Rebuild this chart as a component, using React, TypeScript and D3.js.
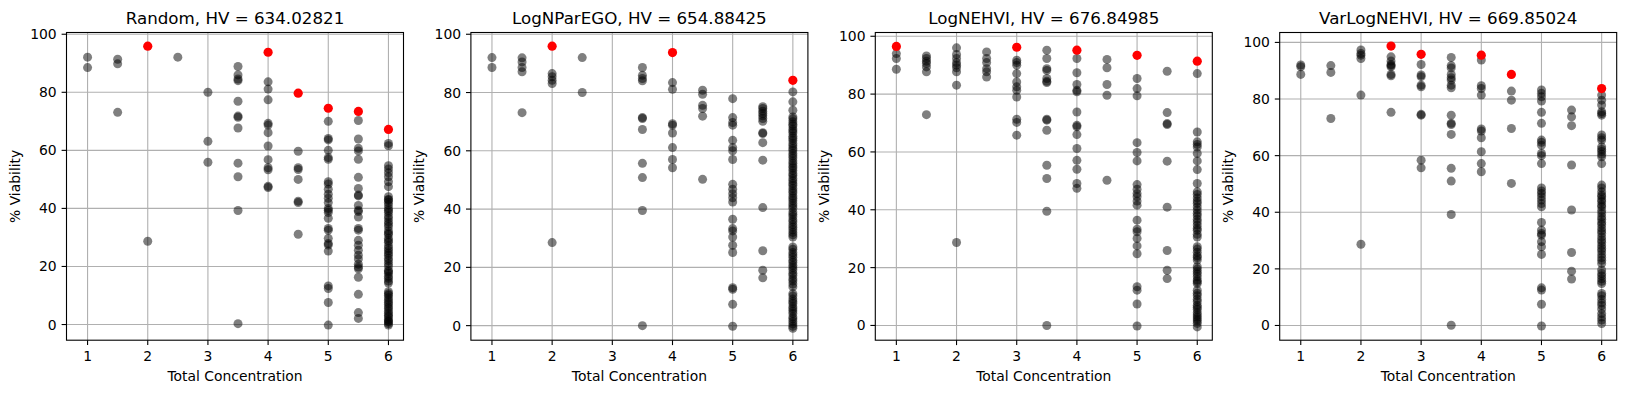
import React from "react";
import * as d3 from "d3";

// ---- data ----
const titles = ["Random, HV = 634.02821", "LogNParEGO, HV = 654.88425", "LogNEHVI, HV = 676.84985", "VarLogNEHVI, HV = 669.85024"];
const xTicks = [1, 2, 3, 4, 5, 6];
const yTicks = [0, 20, 40, 60, 80, 100];
const xDomain = [0.65, 6.25];
const yDomains = [[-5.4, 100.6], [-5.0, 100.6], [-5.1, 101.3], [-5.2, 103.5]];

const randomGrey: [number, number[]][] = [
  [1, [92.1, 88.5]],
  [1.5, [91.4, 89.8, 73.1]],
  [2, [28.7]],
  [2.5, [92.1]],
  [3, [80, 63.1, 55.9]],
  [3.5, [88.9, 86.0, 84.6, 84.0, 76.9, 71.8, 71.4, 67.7, 55.6, 50.9, 39.3, 0.3]],
  [4, [83.6, 81.1, 77.4, 69.3, 68.7, 66.1, 61.5, 56.8, 54.0, 53.3, 47.6, 47.2]],
  [4.5, [59.7, 54.0, 53.4, 50.0, 42.5, 42.0, 31.1]],
  [5, [70, 64.1, 63.6, 60.0, 57.5, 56.9, 49.2, 48.4, 46.6, 44.9, 43.5, 42.0, 40.0, 39.4, 38.6, 36.6, 33.1, 32.5, 29.7, 27.9, 27.4, 25.3, 13.3, 12.4, 7.6, -0.2]],
  [5.5, [70.3, 63.9, 60.7, 59.8, 56.9, 50.7, 46.9, 44.6, 44.3, 41.0, 39.4, 38.9, 37.0, 33.1, 32.5, 29.0, 27.3, 25.6, 23.9, 22.6, 20.8, 19.8, 19.2, 16.3, 10.4, 4.1, 2.1]],
  [6, [62.4, 61.6, 54.7, 53.6, 52.3, 50.9, 49.2, 47.5, 44.0, 43.1, 42.9, 42.1, 41.2, 40.0, 39.3, 38.6, 37.4, 36.5, 35.4, 34.6, 33.7, 32.3, 31.5, 31.0, 29.7, 28.9, 28.3, 27.1, 26.2, 25.4, 24.6, 23.9, 22.8, 22.0, 21.0, 20.1, 18.7, 18.2, 17.6, 16.6, 15.9, 15.0, 14.3, 11.3, 10.6, 10.1, 9.2, 8.4, 7.6, 7.0, 6.1, 5.5, 4.6, 3.8, 3.1, 2.6, 1.7, 1.2, 0.9, 0.3, -0.2]],
];
const randomFront: [number, number][] = [[2, 95.9], [4, 93.8], [4.5, 79.7], [5, 74.5], [5.5, 73.4], [6, 67.2]];

const parEgoGrey: [number, number[]][] = [
  [1, [92.0, 88.6]],
  [1.5, [91.9, 90.5, 88.6, 87.1, 73.1]],
  [2, [86.5, 85.4, 84.2, 83.1, 28.5]],
  [2.5, [92.0, 80.0]],
  [3.5, [88.6, 85.9, 84.8, 84.0, 71.4, 71.1, 67.3, 55.7, 50.8, 39.5, 0]],
  [4, [83.4, 81.1, 69.3, 68.8, 66.1, 61.1, 57.0, 54.2]],
  [4.5, [80.8, 79.4, 75.6, 74.5, 71.9, 50.2]],
  [5, [77.9, 71.4, 69.7, 68.8, 63.6, 61.1, 60.0, 57.0, 48.5, 46.8, 45.3, 43.9, 42.4, 36.5, 33.3, 32.5, 30.4, 27.6, 25.1, 13.0, 12.5, 7.3, -0.2]],
  [5.5, [75.1, 74.5, 73.6, 72.8, 72.0, 71.1, 70.1, 66.2, 65.9, 62.8, 56.8, 40.5, 25.7, 19.0, 16.4]],
  [6, [80.2, 76.8, 73.9, 71.6, 70.9, 70.0, 69.1, 68.5, 67.5, 66.8, 66.1, 65.0, 64.3, 63.5, 62.5, 61.7, 60.8, 60.1, 59.1, 58.3, 57.5, 56.5, 55.7, 54.8, 54.1, 53.2, 52.2, 51.5, 50.5, 49.7, 48.8, 48.1, 47.1, 46.2, 45.5, 44.5, 43.7, 42.9, 41.9, 41.1, 40.3, 39.0, 38.2, 37.4, 36.3, 35.6, 34.6, 33.8, 32.9, 32.0, 31.2, 30.4, 27.0, 26.2, 25.1, 24.3, 23.5, 22.4, 21.7, 20.7, 19.9, 19.1, 18.0, 17.2, 16.1, 15.3, 14.3, 13.3, 11.0, 10.2, 9.1, 8.3, 7.6, 6.5, 5.8, 5.0, 4.2, 3.0, 2.3, 1.4, 0.6, -0.2, -0.9]],
];
const parEgoFront: [number, number][] = [[2, 95.9], [4, 93.7], [6, 84.2]];

const nehviGrey: [number, number[]][] = [
  [1, [94.0, 92.3, 88.6]],
  [1.5, [93.2, 92.3, 91.4, 90.6, 89.4, 87.7, 72.9]],
  [2, [96.0, 93.7, 92.3, 90.9, 90.0, 89.1, 87.7, 83.1, 28.7]],
  [2.5, [94.6, 92.3, 90.9, 88.8, 87.7, 85.9]],
  [3, [91.7, 90.9, 90.0, 87.1, 84.2, 82.5, 81.3, 79.0, 71.3, 70.2, 65.8]],
  [3.5, [95.2, 92.3, 88.8, 88.2, 85.4, 84.4, 84.0, 71.3, 71.0, 67.5, 55.4, 50.8, 39.5, 0]],
  [4, [92.3, 87.4, 83.3, 81.3, 80.8, 73.8, 69.2, 68.7, 66.0, 61.2, 57.1, 54.0, 49.1, 47.4]],
  [4.5, [92.0, 89.1, 83.3, 79.6, 50.2]],
  [5, [85.4, 81.9, 79.4, 63.2, 59.8, 56.9, 48.7, 47.1, 45.6, 44.5, 43.0, 41.6, 36.4, 33.3, 32.4, 30.1, 27.5, 24.8, 13.4, 12.2, 7.4, -0.2]],
  [5.5, [87.9, 73.6, 69.8, 69.5, 56.8, 40.9, 25.9, 19.1, 16.2]],
  [6, [87.1, 66.9, 63.5, 62.6, 61.7, 59.5, 56.9, 53.9, 49.1, 46.2, 45.3, 44.1, 43.0, 42.2, 41.0, 39.9, 38.8, 37.9, 36.7, 35.8, 34.7, 33.6, 32.9, 31.5, 30.6, 27.2, 26.4, 25.3, 24.1, 23.5, 22.6, 20.3, 19.5, 18.6, 17.8, 16.8, 15.7, 15.1, 14.5, 12.2, 11.1, 10.3, 9.1, 8.2, 7.0, 6.3, 5.5, 4.4, 3.6, 2.9, 2.2, 1.5, 0.7, -0.5]],
];
const nehviFront: [number, number][] = [[1, 96.5], [3, 96.2], [4, 95.2], [5, 93.4], [6, 91.4]];

const varNehviGrey: [number, number[]][] = [
  [1, [92.0, 91.4, 88.7]],
  [1.5, [91.8, 89.4, 73.1]],
  [2, [97.3, 96.1, 95.5, 94.3, 81.4, 28.7]],
  [2.5, [94.9, 93.4, 92.2, 91.8, 91.4, 88.7, 88.2, 75.3]],
  [3, [92.2, 88.5, 87.9, 84.9, 84.3, 74.6, 74.3, 58.4, 55.7]],
  [3.5, [94.7, 91.8, 91.0, 88.7, 87.5, 86.7, 84.9, 84.0, 74.3, 71.4, 71.0, 67.5, 55.5, 51.0, 39.2, 0.1]],
  [4, [93.8, 84.7, 83.7, 81.4, 69.4, 68.7, 66.3, 61.4, 57.2, 54.3]],
  [4.5, [82.8, 79.6, 69.6, 50.2]],
  [5, [83.2, 82.0, 80.8, 79.3, 75.3, 71.4, 65.5, 64.7, 63.7, 60.8, 60.0, 57.2, 48.6, 47.5, 46.6, 45.5, 44.3, 43.1, 41.9, 36.4, 33.7, 32.5, 31.9, 29.6, 27.8, 25.1, 13.3, 12.5, 7.5, -0.2]],
  [5.5, [76.1, 73.7, 70.6, 56.7, 40.8, 25.8, 19.2, 16.4]],
  [6, [81.4, 79.6, 77.9, 75.5, 74.9, 74.3, 67.3, 66.3, 65.5, 63.1, 62.2, 61.5, 60.5, 59.6, 57.2, 49.6, 48.6, 47.2, 46.1, 45.5, 44.4, 43.7, 42.6, 41.9, 40.6, 39.6, 38.4, 37.5, 36.4, 35.6, 34.4, 33.4, 32.5, 31.3, 30.2, 29.3, 28.2, 27.2, 26.3, 25.1, 24.0, 23.0, 21.9, 19.6, 18.4, 17.5, 16.5, 15.6, 14.8, 11.3, 10.5, 9.2, 8.0, 7.1, 5.8, 4.2, 3.0, 1.9, 0.7]],
];
const varNehviFront: [number, number][] = [[2.5, 98.7], [3, 95.8], [4, 95.5], [4.5, 88.7], [6, 83.7]];

const greySets = [randomGrey, parEgoGrey, nehviGrey, varNehviGrey];
const frontSets = [randomFront, parEgoFront, nehviFront, varNehviFront];

// ---- layout ----
const W = 1625;
const H = 393;
const axLeft0 = 66.5;
const axStep = 404.4;
const axW = 337;
const axTop = 32.5;
const axBottom = 340.2;
const FONT = "'DejaVu Sans', sans-serif";

function Panel({ i }: { i: number }) {
  const left = axLeft0 + i * axStep;
  const x = d3.scaleLinear().domain(xDomain).range([left, left + axW]);
  const y = d3.scaleLinear().domain(yDomains[i]).range([axBottom, axTop]);
  const grey = greySets[i].flatMap(([c, vals]) => vals.map((v) => [c, v] as [number, number]));
  const front = frontSets[i];
  const cx = left + axW / 2;
  return (
    <g>
      {xTicks.map((t) => (
        <line key={"gx" + t} x1={x(t)} x2={x(t)} y1={axTop} y2={axBottom} stroke="#b0b0b0" strokeWidth={1.1} />
      ))}
      {yTicks.map((t) => (
        <line key={"gy" + t} x1={left} x2={left + axW} y1={y(t)} y2={y(t)} stroke="#b0b0b0" strokeWidth={1.1} />
      ))}
      {grey.map(([c, v], k) => (
        <circle key={"p" + k} cx={x(c)} cy={y(v)} r={4.5} fill="#000" fillOpacity={0.5} />
      ))}
      {front.map(([c, v], k) => (
        <circle key={"r" + k} cx={x(c)} cy={y(v)} r={4.6} fill="#ff0000" />
      ))}
      <rect x={left} y={axTop} width={axW} height={axBottom - axTop} fill="none" stroke="#000" strokeWidth={1.1} />
      {xTicks.map((t) => (
        <g key={"xt" + t}>
          <line x1={x(t)} x2={x(t)} y1={axBottom} y2={axBottom + 4.9} stroke="#000" strokeWidth={1.1} />
          <text x={x(t)} y={axBottom + 20.5} textAnchor="middle" fontSize={13.9} fontFamily={FONT} fill="#000">
            {t}
          </text>
        </g>
      ))}
      {yTicks.map((t) => (
        <g key={"yt" + t}>
          <line x1={left - 4.9} x2={left} y1={y(t)} y2={y(t)} stroke="#000" strokeWidth={1.1} />
          <text x={left - 9.8} y={y(t)} dy="0.36em" textAnchor="end" fontSize={13.9} fontFamily={FONT} fill="#000">
            {t}
          </text>
        </g>
      ))}
      <text x={cx} y={380.5} textAnchor="middle" fontSize={13.9} fontFamily={FONT} fill="#000">
        Total Concentration
      </text>
      <text
        transform={`translate(${left - 46.5},${(axTop + axBottom) / 2}) rotate(-90)`}
        textAnchor="middle"
        fontSize={13.9}
        fontFamily={FONT}
        fill="#000"
      >
        % Viability
      </text>
      <text x={cx} y={24.3} textAnchor="middle" fontSize={16.7} fontFamily={FONT} fill="#000">
        {titles[i]}
      </text>
    </g>
  );
}

export default function App() {
  return (
    <svg
      width={W}
      height={H}
      viewBox={`0 0 ${W} ${H}`}
      style={{ position: "absolute", left: 0, top: 0, background: "#fff" }}
    >
      <rect width={W} height={H} fill="#fff" />
      {[0, 1, 2, 3].map((i) => (
        <Panel key={i} i={i} />
      ))}
    </svg>
  );
}
